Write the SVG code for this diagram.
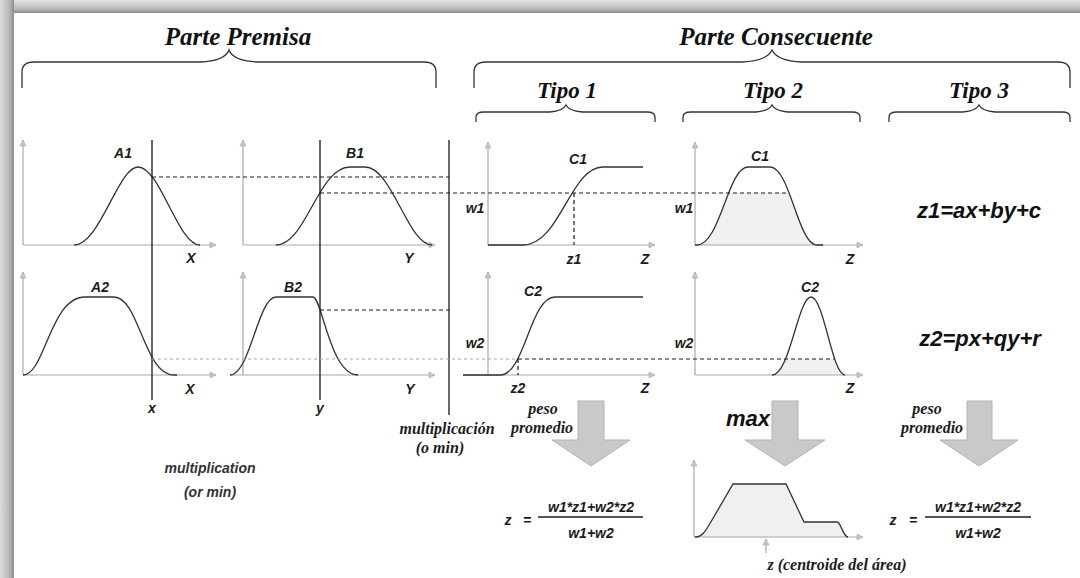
<svg xmlns="http://www.w3.org/2000/svg" width="1080" height="578" viewBox="0 0 1080 578">
<defs>
<linearGradient id="gTop" x1="0" y1="0" x2="0" y2="1"><stop offset="0" stop-color="#e4e4e4"/><stop offset="0.7" stop-color="#b8b8b8"/><stop offset="1" stop-color="#8c8c8c"/></linearGradient>
<linearGradient id="gLeft" x1="0" y1="0" x2="1" y2="0"><stop offset="0" stop-color="#dcdcdc"/><stop offset="0.7" stop-color="#b4b4b4"/><stop offset="1" stop-color="#8c8c8c"/></linearGradient>
<marker id="ah" markerWidth="8" markerHeight="8" refX="7" refY="4" orient="auto" markerUnits="userSpaceOnUse"><path d="M1,1 L7,4 L1,7 Z" fill="#c4c4c4" stroke="#aaa" stroke-width="0.6"/></marker>
<clipPath id="clipW1"><rect x="690" y="193" width="180" height="60"/></clipPath>
<clipPath id="clipW2"><rect x="690" y="359" width="180" height="20"/></clipPath>
</defs>
<style>
.hdr{font-family:"Liberation Serif",serif;font-weight:bold;font-style:italic;fill:#111}
.brace{fill:none;stroke:#333;stroke-width:1.3}
.axis{stroke:#a8a8a8;stroke-width:1.2;fill:none;marker-end:url(#ah)}
.curve{fill:none;stroke:#333;stroke-width:1.3}
.shade{fill:#f0f0f0;stroke:none}
.vline{stroke:#1a1a1a;stroke-width:1.3}
.dash{stroke:#1a1a1a;stroke-width:1.2;stroke-dasharray:4 3;fill:none}
.dashl{stroke:#aaaaaa;stroke-width:1.1;stroke-dasharray:3 3;fill:none}
.lbl{font-family:"Liberation Sans",Arial,sans-serif;font-weight:bold;font-style:italic;font-size:14px;fill:#1c1c1c;text-anchor:middle}
.eq{font-family:"Liberation Sans",Arial,sans-serif;font-weight:bold;font-style:italic;font-size:22px;fill:#111;text-anchor:middle}
.frm{font-family:"Liberation Sans",Arial,sans-serif;font-weight:bold;font-style:italic;font-size:14px;fill:#1c1c1c;text-anchor:middle}
.ser{font-family:"Liberation Serif",serif;font-weight:bold;font-style:italic;font-size:16px;fill:#1c1c1c;text-anchor:middle}
.note{font-family:"Liberation Sans",Arial,sans-serif;font-weight:bold;font-style:italic;font-size:14px;fill:#333;text-anchor:middle}
.big{fill:#c9c9c9;stroke:#b3b3b3;stroke-width:1}
.frac{stroke:#1c1c1c;stroke-width:1.3}
</style>
<rect x="0" y="0" width="1080" height="578" fill="#ffffff"/>
<rect x="0" y="0" width="1080" height="13" fill="url(#gTop)"/>
<rect x="0" y="0" width="14" height="578" fill="url(#gLeft)"/>

<g id="headers">
<text class="hdr" x="238" y="45" font-size="25" text-anchor="middle">Parte Premisa</text>
<path class="brace" d="M22 88 L22 72 Q22 62 34 62 L200 62 Q225 61 229 50 Q233 61 258 62 L424 62 Q436 62 436 72 L436 88"/>
<text class="hdr" x="776" y="45" font-size="25" text-anchor="middle">Parte Consecuente</text>
<path class="brace" d="M474 88 L474 72 Q474 62 486 62 L742 62 Q767 61 772 50 Q777 61 802 62 L1058 62 Q1070 62 1070 72 L1070 88"/>
<text class="hdr" x="567" y="98" font-size="23" text-anchor="middle">Tipo 1</text>
<path class="brace" d="M476 122 L476 117 Q476 112 484 112 L550 112 Q563 111 566 105 Q569 111 582 112 L647 112 Q655 112 655 117 L655 122"/>
<text class="hdr" x="773" y="98" font-size="23" text-anchor="middle">Tipo 2</text>
<path class="brace" d="M683 122 L683 117 Q683 112 691 112 L756 112 Q769 111 772 105 Q775 111 788 112 L852 112 Q860 112 860 117 L860 122"/>
<text class="hdr" x="979" y="98" font-size="23" text-anchor="middle">Tipo 3</text>
<path class="brace" d="M889 122 L889 117 Q889 112 897 112 L963 112 Q976 111 979 105 Q982 111 995 112 L1062 112 Q1070 112 1070 117 L1070 122"/>
</g>

<g id="plotA1">
<line class="axis" x1="23" y1="245" x2="23" y2="140"/>
<line class="axis" x1="23" y1="245" x2="216" y2="245"/>
<path class="curve" d="M74 245 C100 245 118 167 138 167 C160 167 178 245 200 245"/>
<text class="lbl" x="123" y="158">A1</text>
<text class="lbl" x="191" y="263">X</text>
</g>
<g id="plotB1">
<line class="axis" x1="243" y1="245" x2="243" y2="140"/>
<line class="axis" x1="243" y1="245" x2="435" y2="245"/>
<path class="curve" d="M276 245 C306 245 318 167 350 167 L365 167 C392 167 408 245 432 245"/>
<text class="lbl" x="355" y="158">B1</text>
<text class="lbl" x="409" y="263">Y</text>
</g>
<g id="plotA2">
<line class="axis" x1="23" y1="375" x2="23" y2="272"/>
<line class="axis" x1="23" y1="375" x2="216" y2="375"/>
<path class="curve" d="M23 375 C45 375 50 297 85 297 L114 297 C139 297 144 375 174 375 L177 375"/>
<text class="lbl" x="100" y="292">A2</text>
<text class="lbl" x="190" y="394">X</text>
</g>
<g id="plotB2">
<line class="axis" x1="243" y1="375" x2="243" y2="272"/>
<line class="axis" x1="230" y1="375" x2="435" y2="375"/>
<path class="curve" d="M230 375 C250 375 258 297 276 297 L313 297 C322 297 330 375 358 375"/>
<text class="lbl" x="293" y="292">B2</text>
<text class="lbl" x="410" y="394">Y</text>
</g>

<g id="plotT1C1">
<line class="axis" x1="488" y1="245" x2="488" y2="142"/>
<line class="axis" x1="488" y1="245" x2="655" y2="245"/>
<path class="curve" d="M488 245 L523 245 C560 245 570 167 603 167 L643 167"/>
<text class="lbl" x="578" y="164">C1</text>
<text class="lbl" x="475" y="213">w1</text>
<text class="lbl" x="574" y="264">z1</text>
<text class="lbl" x="645" y="264">Z</text>
</g>
<g id="plotT1C2">
<line class="axis" x1="488" y1="375" x2="488" y2="272"/>
<line class="axis" x1="463" y1="375" x2="655" y2="375"/>
<path class="curve" d="M463 375 L500 375 C525 375 530 297 555 297 L643 297"/>
<text class="lbl" x="533" y="296">C2</text>
<text class="lbl" x="475" y="348">w2</text>
<text class="lbl" x="518" y="393">z2</text>
<text class="lbl" x="645" y="393">Z</text>
</g>

<g id="plotT2C1">
<path class="shade" clip-path="url(#clipW1)" d="M697 245 C720 245 728 167 748 167 L770 167 C790 167 798 245 817 245 Z"/>
<line class="axis" x1="695" y1="245" x2="695" y2="142"/>
<line class="axis" x1="695" y1="245" x2="863" y2="245"/>
<path class="curve" d="M695 245 L697 245 C720 245 728 167 748 167 L770 167 C790 167 798 245 817 245 L823 245"/>
<text class="lbl" x="760" y="161">C1</text>
<text class="lbl" x="684" y="213">w1</text>
<text class="lbl" x="850" y="264">Z</text>
</g>
<g id="plotT2C2">
<path class="shade" clip-path="url(#clipW2)" d="M772 375 C790 375 798 297 811 297 C824 297 832 375 845 375 Z"/>
<line class="axis" x1="695" y1="375" x2="695" y2="272"/>
<line class="axis" x1="695" y1="375" x2="863" y2="375"/>
<path class="curve" d="M772 375 C790 375 798 297 811 297 C824 297 832 375 845 375"/>
<text class="lbl" x="810" y="292">C2</text>
<text class="lbl" x="684" y="348">w2</text>
<text class="lbl" x="850" y="393">Z</text>
</g>

<g id="tipo3">
<text class="eq" x="979" y="218">z1=ax+by+c</text>
<text class="eq" x="980" y="346">z2=px+qy+r</text>
</g>

<g id="connectors">
<line class="vline" x1="152" y1="140" x2="152" y2="400"/>
<line class="vline" x1="320" y1="140" x2="320" y2="400"/>
<line class="vline" x1="449" y1="140" x2="449" y2="415"/>
<line class="dash" x1="152" y1="177" x2="449" y2="177"/>
<line class="dash" x1="320" y1="193" x2="789" y2="193"/>
<line class="dash" x1="320" y1="310" x2="449" y2="310"/>
<line class="dashl" x1="152" y1="359" x2="518" y2="359"/>
<line class="dash" x1="518" y1="359" x2="834" y2="359"/>
<line class="dash" x1="574" y1="193" x2="574" y2="245"/>
<line class="dash" x1="518" y1="359" x2="518" y2="375"/>
<text class="lbl" x="152" y="413">x</text>
<text class="lbl" x="320" y="413">y</text>
</g>

<g id="notes">
<text class="ser" x="447" y="434">multiplicación</text>
<text class="ser" x="440" y="453">(o min)</text>
<text class="note" x="210" y="473">multiplication</text>
<text class="note" x="210" y="497">(or min)</text>
</g>

<g id="arrowT1">
<path class="big" d="M578 401 L604 401 L604 440 L630 440 L591 466 L552 440 L578 440 Z"/>
<text class="ser" x="543" y="414">peso</text>
<text class="ser" x="542" y="433">promedio</text>
</g>
<g id="arrowT2">
<path class="big" d="M772 401 L798 401 L798 440 L825 440 L785 466 L745 440 L772 440 Z"/>
<text class="eq" x="748" y="426" font-size="21">max</text>
</g>
<g id="arrowT3">
<path class="big" d="M967 401 L992 401 L992 440 L1018 440 L979 466 L940 440 L967 440 Z"/>
<text class="ser" x="927" y="414">peso</text>
<text class="ser" x="932" y="433">promedio</text>
</g>

<g id="formulaT1">
<text class="frm" x="508" y="525">z</text>
<text class="frm" x="527" y="525">=</text>
<text class="frm" x="591" y="512">w1*z1+w2*z2</text>
<line class="frac" x1="538" y1="517" x2="643" y2="517"/>
<text class="frm" x="591" y="538">w1+w2</text>
</g>

<g id="resultT2">
<path class="shade" d="M695 537 C703 537 706 530 712 520 L733 484 L786 484 L804 522 L837 522 C841 522 843 537 848 537 Z"/>
<line class="axis" x1="694" y1="537" x2="694" y2="460"/>
<line class="axis" x1="694" y1="537" x2="863" y2="537"/>
<path class="curve" d="M695 537 C703 537 706 530 712 520 L733 484 L786 484 L804 522 L837 522 C841 522 843 537 848 537"/>
<line x1="766" y1="553" x2="766" y2="539" stroke="#999" stroke-width="1" marker-end="url(#ah)"/>
<text class="ser" x="837" y="570">z (centroide del área)</text>
</g>

<g id="formulaT3">
<text class="frm" x="893" y="525">z</text>
<text class="frm" x="913" y="525">=</text>
<text class="frm" x="978" y="512">w1*z1+w2*z2</text>
<line class="frac" x1="925" y1="517" x2="1031" y2="517"/>
<text class="frm" x="978" y="538">w1+w2</text>
</g>
</svg>
